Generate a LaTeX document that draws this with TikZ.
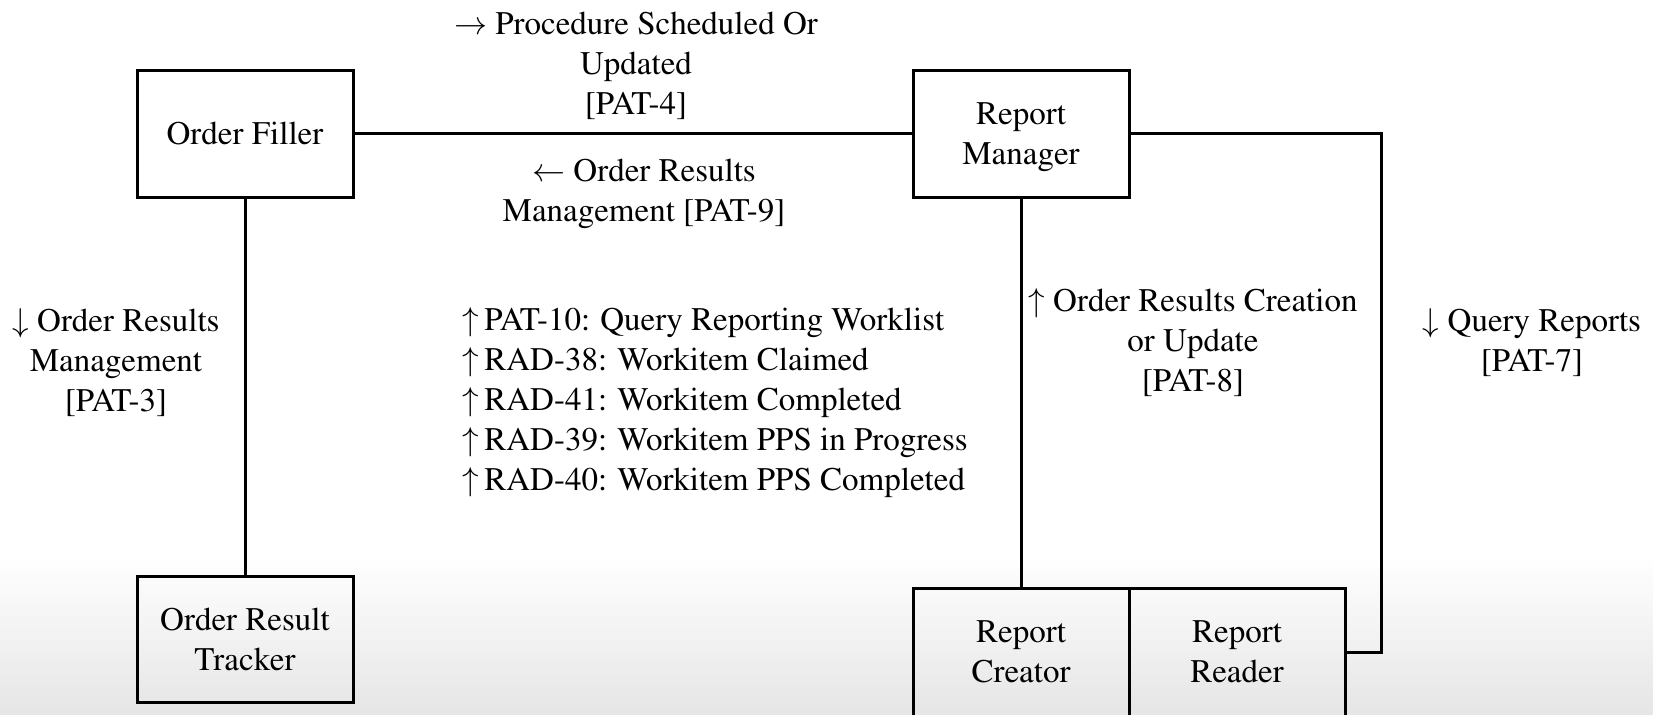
\documentclass[tikz,border=0pt]{standalone}
\usepackage[T1]{fontenc}
\usepackage{mathptmx}
\newcommand{\ra}{$\rightarrow$}
\newcommand{\la}{$\leftarrow$}
\newcommand{\ua}{$\uparrow$}
\newcommand{\da}{$\downarrow$}
\begin{document}
\begin{tikzpicture}[x=0.5pt,y=-0.5pt,
  box/.style={draw=black, line width=1.5pt, rectangle, minimum width=108pt, inner sep=0pt, align=center, font=\fontsize{16.5}{20}\selectfont},
  lbl/.style={inner sep=0pt, align=center, font=\fontsize{16.5}{20}\selectfont},
  conn/.style={draw=black, line width=1.5pt}]
\useasboundingbox (0,0) rectangle (1653,714);
\fill[white] (0,0) rectangle (1653,557);
\shade[top color=white, bottom color=black!10] (0,556) rectangle (1653,714);

\node[box, minimum height=63.5pt] (of) at (245,133.5) {Order Filler};
\node[box, minimum height=63.5pt, text depth=0pt] (rm) at (1021,133.5) {Report\\Manager};
\node[box, minimum height=63pt] (ort) at (245,639) {Order Result\\Tracker};
\node[box, minimum height=64pt] (rc) at (1021,652) {Report\\Creator};
\node[box, minimum height=64pt] (rr) at (1237,652) {Report\\Reader};
\coordinate (cr) at (1381,400);

\draw[conn] (of) -- (rm);
\draw[conn] (of.south) -- (ort.north);
\draw[conn] (rm.south) -- (rc.north);
\draw[conn] (rm.east) -| (cr) |- (rr.east);

\node[lbl] (l1) at (636,65.5) {\ra\ Procedure Scheduled Or\\Updated\\{}[PAT-4]};
\node[lbl] (l2) at (644,193.5) {\la\ Order Results\\Management [PAT-9]};
\node[lbl] (l3) at (116,362.5) {\da\ Order Results\\Management\\{}[PAT-3]};
\node[lbl, anchor=west, align=left] (l4) at (462,402.5) {\ua\,PAT-10: Query Reporting Worklist\\\ua\,RAD-38: Workitem Claimed\\\ua\,RAD-41: Workitem Completed\\\ua\,RAD-39: Workitem PPS in Progress\\\ua\,RAD-40: Workitem PPS Completed};
\node[lbl] (l5) at (1193,342.5) {\ua\ Order Results Creation\\or Update\\{}[PAT-8]};
\node[lbl] (l6) at (1532,342.5) {\da\ Query Reports\\{}[PAT-7]};
\end{tikzpicture}
\end{document}
